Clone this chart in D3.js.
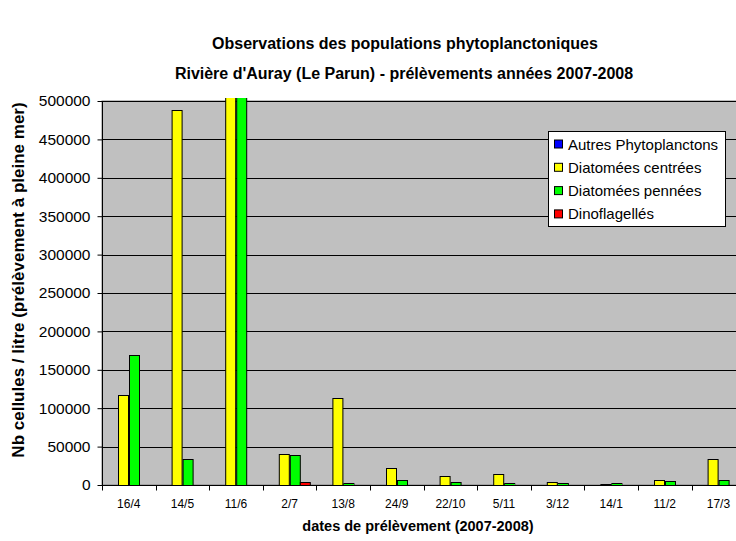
<!DOCTYPE html>
<html>
<head>
<meta charset="utf-8">
<script src="https://cdn.jsdelivr.net/npm/d3@7"></script>
<style>
  body { margin: 0; background: #fff; }
  text { font-family: "Liberation Sans", Arial, sans-serif; }
</style>
</head>
<body>
<div id="chart"></div>
<script>
  var dates = ["16/4", "14/5", "11/6", "2/7", "13/8", "24/9", "22/10", "5/11", "3/12", "14/1", "11/2", "17/3"];
  var series = ["Autres Phytoplanctons", "Diatomées centrées", "Diatomées pennées", "Dinoflagellés"];
  var couleurs = ["#0000ff", "#ffff00", "#00ff00", "#ff0000"];

  var autres   = [0, 0, 0, 0, 0, 0, 0, 0, 0, 0, 0, 0];
  var centrees = [117000, 488000, 560000, 40500, 113000, 21500, 11300, 13900, 4000, 1700, 6500, 34300];
  var pennees  = [169000, 34000, 560000, 39000, 2600, 6500, 3900, 2600, 2600, 2600, 5200, 6500];
  var dino     = [0, 0, 0, 3900, 0, 0, 0, 0, 0, 0, 0, 0];
  var valeurs = [autres, centrees, pennees, dino];

  var yTicks = [0, 50000, 100000, 150000, 200000, 250000, 300000, 350000, 400000, 450000, 500000];

  var width = 736, height = 541;
  var pLeft = 102, pTop = 101, pBottom = 485, pRight = pLeft + 12 * 53.6;

  var svg = d3.select("#chart")
      .append("svg")
      .attr("width", width)
      .attr("height", height);

  var x0 = d3.scaleBand().domain(dates).range([pLeft, pRight]);
  var bw = x0.bandwidth();
  var x1 = d3.scaleBand().domain(series).range([bw * 0.115, bw * 0.885]);
  var y = d3.scaleLinear().domain([0, 500000]).range([pBottom, pTop]);

  // zone de tracé
  svg.append("rect")
      .attr("x", pLeft).attr("y", pTop)
      .attr("width", pRight - pLeft).attr("height", pBottom - pTop)
      .attr("fill", "#c0c0c0")
      .attr("stroke", "#808080");

  svg.selectAll(".grid")
      .data(yTicks.slice(1))
    .enter().append("line")
      .attr("x1", pLeft).attr("x2", pRight)
      .attr("y1", function(d) { return Math.round(y(d)) + 0.5; })
      .attr("y2", function(d) { return Math.round(y(d)) + 0.5; })
      .attr("stroke", "#000");

  svg.append("clipPath").attr("id", "clip")
    .append("rect")
      .attr("x", pLeft).attr("y", pTop - 3)
      .attr("width", pRight - pLeft).attr("height", pBottom - pTop + 3);

  var rows = dates.map(function(d, i) {
    return { date: d, vals: series.map(function(s, j) { return { s: s, v: valeurs[j][i], c: couleurs[j] }; }) };
  });

  svg.append("g").attr("clip-path", "url(#clip)")
    .selectAll("g")
      .data(rows)
    .enter().append("g")
      .attr("transform", function(d) { return "translate(" + x0(d.date) + ",0)"; })
    .selectAll("rect")
      .data(function(d) { return d.vals.filter(function(e) { return e.v > 0; }); })
    .enter().append("rect")
      .attr("x", function(d) { return Math.round(x1(d.s)) + 0.5; })
      .attr("y", function(d) { return Math.round(y(d.v)) + 0.5; })
      .attr("width", Math.round(x1.bandwidth()))
      .attr("height", function(d) { return Math.round(pBottom - y(d.v)); })
      .attr("fill", function(d) { return d.c; })
      .attr("stroke", "#000");

  // axes
  var yAxis = svg.append("g")
      .attr("transform", "translate(" + (pLeft + 0.5) + ",0)")
      .call(d3.axisLeft(y).tickValues(yTicks).tickSize(5).tickPadding(7).tickFormat(d3.format("d")));
  yAxis.select(".domain").attr("d", "M0," + pTop + "V" + (pBottom + 0.5));
  yAxis.selectAll("text").attr("font-size", "15.5px").attr("font-family", "Liberation Sans, Arial, sans-serif").attr("fill", "#000");

  var xAxis = svg.append("g")
      .attr("transform", "translate(0," + (pBottom + 0.5) + ")");
  xAxis.append("line")
      .attr("x1", pLeft).attr("x2", pRight)
      .attr("stroke", "#000");
  xAxis.selectAll(".tk")
      .data(dates)
    .enter().append("line")
      .attr("x1", function(d) { return Math.round(x0(d)) + 0.5; })
      .attr("x2", function(d) { return Math.round(x0(d)) + 0.5; })
      .attr("y1", 0).attr("y2", 5)
      .attr("stroke", "#000");
  xAxis.selectAll(".lbl")
      .data(dates)
    .enter().append("text")
      .attr("x", function(d) { return x0(d) + bw / 2; })
      .attr("y", 22)
      .attr("text-anchor", "middle")
      .attr("font-size", "12px")
      .text(function(d) { return d; });

  // titres
  svg.append("text")
      .attr("x", 405).attr("y", 49)
      .attr("text-anchor", "middle")
      .attr("font-size", "16px").attr("font-weight", "bold")
      .text("Observations des populations phytoplanctoniques");
  svg.append("text")
      .attr("x", 404).attr("y", 79)
      .attr("text-anchor", "middle")
      .attr("font-size", "16px").attr("font-weight", "bold")
      .text("Rivière d'Auray (Le Parun) - prélèvements années 2007-2008");

  svg.append("text")
      .attr("transform", "translate(24,280) rotate(-90)")
      .attr("text-anchor", "middle")
      .attr("font-size", "17px").attr("font-weight", "bold")
      .text("Nb cellules / litre (prélèvement à pleine mer)");

  svg.append("text")
      .attr("x", 418).attr("y", 531)
      .attr("text-anchor", "middle")
      .attr("font-size", "14.5px").attr("font-weight", "bold")
      .text("dates de prélèvement (2007-2008)");

  // légende
  var leg = svg.append("g").attr("transform", "translate(548,131)");
  leg.append("rect")
      .attr("x", 0.5).attr("y", 0.5)
      .attr("width", 177).attr("height", 95)
      .attr("fill", "#fff").attr("stroke", "#000");
  var item = leg.selectAll(".item")
      .data(series)
    .enter().append("g")
      .attr("transform", function(d, i) { return "translate(0," + (13.5 + i * 23.3) + ")"; });
  item.append("rect")
      .attr("x", 6.5).attr("y", -4.5)
      .attr("width", 8).attr("height", 8)
      .attr("fill", function(d, i) { return couleurs[i]; })
      .attr("stroke", "#000");
  item.append("text")
      .attr("x", 20).attr("y", 5)
      .attr("font-size", "15px")
      .text(function(d) { return d; });
</script>
</body>
</html>
